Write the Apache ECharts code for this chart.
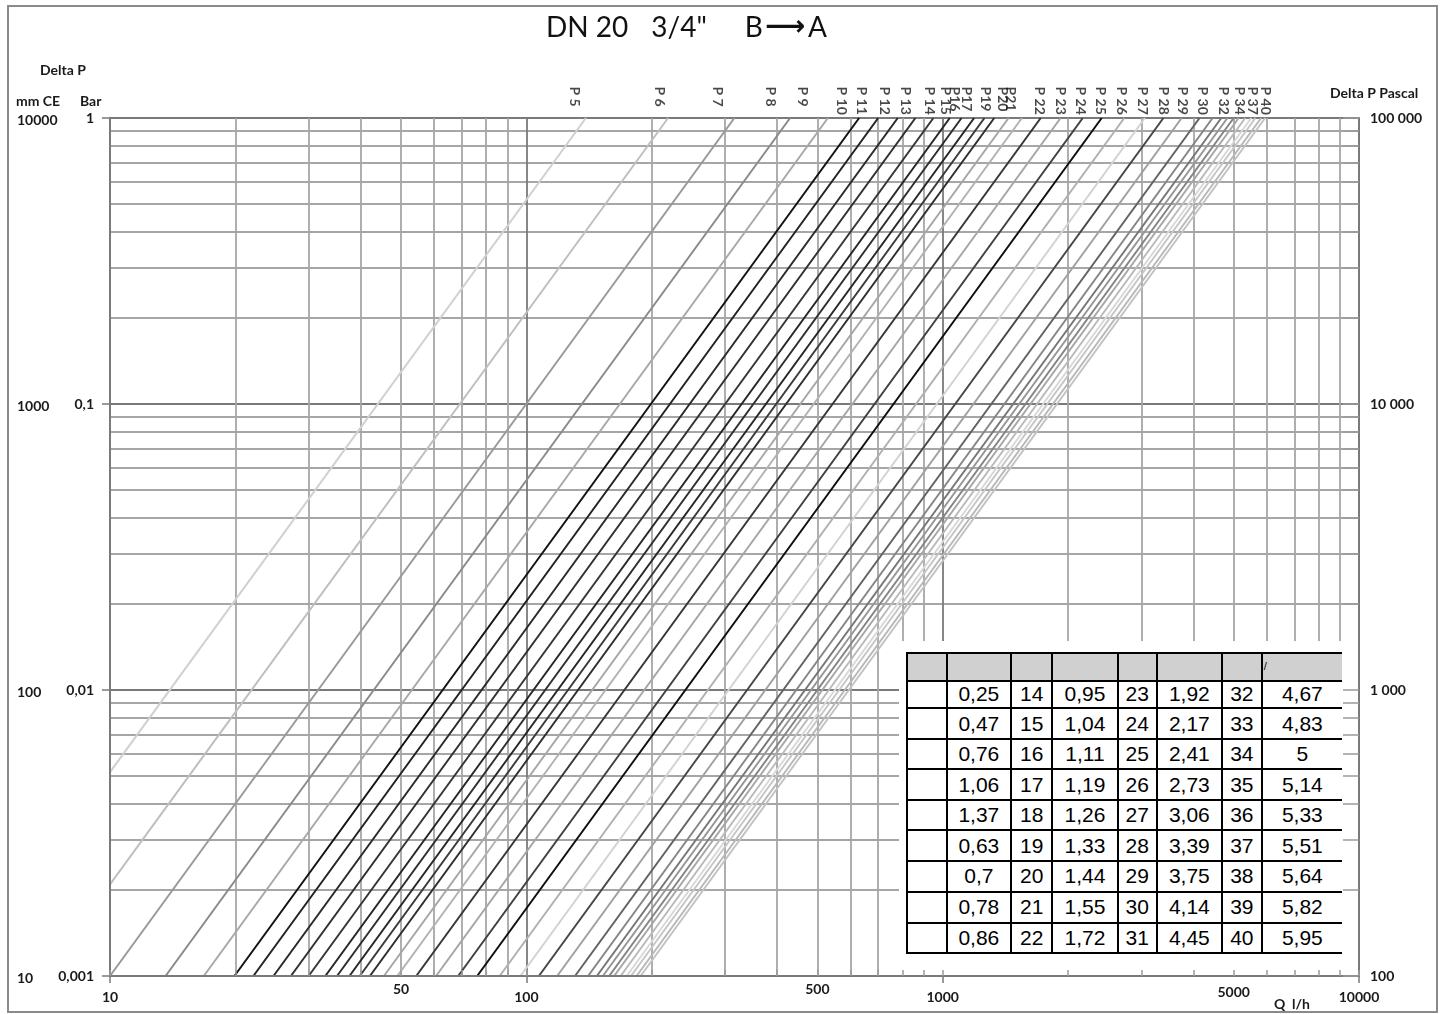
<!DOCTYPE html>
<html>
<head>
<meta charset="utf-8">
<script src="https://cdn.jsdelivr.net/npm/echarts@6/dist/echarts.min.js"></script>
<style>
html,body{margin:0;padding:0;background:#fff;}
#wrap{position:relative;width:1442px;height:1014px;overflow:hidden;background:#fff;}
#chart{position:absolute;left:0;top:0;width:1442px;height:1014px;}
#frame{position:absolute;left:7px;top:5px;width:1431px;height:1008px;border:2px solid #8a8a8a;box-sizing:border-box;pointer-events:none;}
#table{position:absolute;left:0;top:0;}
.cell{position:absolute;box-sizing:border-box;border-left:2px solid #000;border-top:2px solid #000;font-family:"Liberation Sans",Arial,sans-serif;font-size:21px;color:#000;display:flex;align-items:center;justify-content:center;background:#fff;}
.hdr{background:#d0d0d0;}
</style>
</head>
<body>
<div id="wrap"><div id="chart"></div><div id="frame"></div><div id="table"></div></div>
<script>
// ---------- data ----------
const lineNames = ['P5','P6','P7','P8','P9','P10','P11','P12','P13','P14','P15','P16','P17','P18','P19','P20','P21','P22','P23','P24','P25','P26','P27','P28','P29','P30','P31','P32','P33','P34','P35','P36','P37','P38','P39','P40'];
// Q (l/h) where each line reaches Delta P = 1 bar (top edge)
const qTop = [139, 219, 316, 430, 530, 630, 700, 780, 860, 950, 1040, 1110, 1190, 1260, 1330, 1440, 1550, 1720, 1920, 2170, 2410, 2730, 3060, 3390, 3750, 4140, 4450, 4670, 4830, 5000, 5140, 5330, 5510, 5640, 5820, 5950];
const pTop = [1,1,1,1,1,1,1,1,1,1,1,1,1,1,1,1,1,1,1,1,1,1,1,1,1,1,1,1,1,1,1,1,1,1,1,1];
// start point of each line (left edge or bottom edge)
const qStart = [10, 10, 10.0, 13.6, 16.8, 19.9, 22.1, 24.7, 27.2, 30.0, 32.9, 35.1, 37.6, 39.8, 42.1, 45.5, 49.0, 54.4, 60.7, 68.6, 76.2, 86.3, 96.8, 107.2, 118.6, 130.9, 140.7, 147.7, 152.7, 158.1, 162.5, 168.5, 174.2, 178.4, 184.0, 188.2];
const pStart = [0.00516, 0.00209, 0.001, 0.001, 0.001, 0.001, 0.001, 0.001, 0.001, 0.001, 0.001, 0.001, 0.001, 0.001, 0.001, 0.001, 0.001, 0.001, 0.001, 0.001, 0.001, 0.001, 0.001, 0.001, 0.001, 0.001, 0.001, 0.001, 0.001, 0.001, 0.001, 0.001, 0.001, 0.001, 0.001, 0.001];
const lineColors = ['#d0d0d0','#bfbfbf','#999999','#8a8a8a','#a8a8a8','#121212','#222222','#2a2a2a','#303030','#363636','#262626','#2e2e2e','#262626','#3a3a3a','#2e2e2e','#a6a6a6','#b2b2b2','#363636','#a5a5a5','#404040','#0e0e0e','#b0b0b0','#d2d2d2','#464646','#a0a0a0','#626262','#868686','#767676','#969696','#848484','#a6a6a6','#bababa','#d8d8d8','#c6c6c6','#b8b8b8','#c2c2c2'];

// rotated labels above the top edge
const labelNames = ['P 5','P 6','P 7','P 8','P 9','P 10','P 11','P 12','P 13','P 14','P 15','P16','P17','P19','P20','P21','P 22','P 23','P 24','P 25','P 26','P 27','P 28','P 29','P 30','P 32','P 34','P 37','P 40'];
const labelQ = [130.7, 209.2, 288.3, 386.4, 461.2, 572.1, 639.2, 725.6, 815.1, 930.5, 1016.7, 1068.6, 1141.6, 1268.7, 1393.5, 1456.5, 1710, 1920.5, 2144.6, 2395.8, 2690.6, 3021, 3393, 3769, 4209, 4727, 5166, 5580, 5964];

// axis ticks and labels
const xGridValues = [10,20,30,40,50,60,70,80,90,100,200,300,400,500,600,700,800,900,1000,2000,3000,4000,5000,6000,7000,8000,9000,10000];
const xMajorTicks = [10,100,1000,10000];
const xLabelValues = [10,50,100,500,1000,5000,10000];
const xLabelTexts = ['10','50','100','500','1000','5000','10000'];
const yGridValues = [0.001,0.002,0.003,0.004,0.005,0.006,0.007,0.008,0.009,0.01,0.02,0.03,0.04,0.05,0.06,0.07,0.08,0.09,0.1,0.2,0.3,0.4,0.5,0.6,0.7,0.8,0.9,1];
const barTicks = [0.001,0.01,0.1,1];
const barLabels = ['0,001','0,01','0,1','1'];
const mmTicks = [10,100,1000,10000];
const mmLabels = ['10','100','1000','10000'];
const paGridValues = [100,200,300,400,500,600,700,800,900,1000,2000,3000,4000,5000,6000,7000,8000,9000,10000,20000,30000,40000,50000,60000,70000,80000,90000,100000];
const paTicks = [100,1000,10000,100000];
const paLabels = ['100','1 000','10 000','100 000'];

// table
const tableCol0 = ['','','','','','','','',''];
const tableKvA = ['0,25','0,47','0,76','1,06','1,37','0,63','0,7','0,78','0,86'];
const tablePosB = ['14','15','16','17','18','19','20','21','22'];
const tableKvB = ['0,95','1,04','1,11','1,19','1,26','1,33','1,44','1,55','1,72'];
const tablePosC = ['23','24','25','26','27','28','29','30','31'];
const tableKvC = ['1,92','2,17','2,41','2,73','3,06','3,39','3,75','4,14','4,45'];
const tablePosD = ['32','33','34','35','36','37','38','39','40'];
const tableKvD = ['4,67','4,83','5','5,14','5,33','5,51','5,64','5,82','5,95'];

// ---------- helpers ----------
function pick(values, labels, v) {
  let best = 0, bd = Infinity;
  values.forEach((t, i) => { const d = Math.abs(Math.log10(t) - Math.log10(v)); if (d < bd) { bd = d; best = i; } });
  return labels[best];
}
const FONT = 'Lato';
const gridMinor = '#a6a6a6', gridMajor = '#7a7a7a';
const cycle = [gridMajor, gridMinor, gridMinor, gridMinor, gridMinor, gridMinor, gridMinor, gridMinor, gridMinor];
const lblStyle = {fontFamily: FONT, fontWeight: 'bold', fontSize: 14, color: '#1a1a1a'};

const series = lineNames.map((n, i) => ({
  type: 'line', name: n, xAxisIndex: 0, yAxisIndex: 0,
  data: [[qStart[i], pStart[i]], [qTop[i], pTop[i]]],
  showSymbol: false, symbol: 'none', silent: true, animation: false, z: 2,
  lineStyle: {color: lineColors[i], width: 2}
}));
series.push({
  type: 'scatter', xAxisIndex: 0, yAxisIndex: 0, silent: true, animation: false, clip: false, z: 4,
  symbolSize: 1, itemStyle: {color: 'rgba(0,0,0,0)'},
  data: labelQ.map((q, i) => ({value: [q, 1], name: labelNames[i]})),
  label: {show: true, formatter: '{b}', position: [0, -31], rotate: -90, align: 'left', verticalAlign: 'middle',
          fontFamily: FONT, fontSize: 14, fontWeight: 'bold', color: '#1a1a1a'}
});

const titleTok = {fontFamily: FONT, fontSize: 28, fontWeight: 'normal', color: '#111'};
const chart = echarts.init(document.getElementById('chart'), null, {renderer: 'canvas'});
chart.setOption({
  animation: false,
  backgroundColor: '#fff',
  title: {
    text: '{a|DN 20}{b|3/4"}{c|B}{r|⟶}{d|A}',
    left: 546, top: 14, padding: 0,
    textStyle: {fontWeight: 'normal', rich: {
      a: Object.assign({}, titleTok),
      b: Object.assign({padding: [0, 0, 0, 23]}, titleTok),
      c: Object.assign({padding: [0, 0, 0, 38]}, titleTok),
      r: {fontFamily: 'DejaVu Sans', fontSize: 28, fontWeight: 'bold', color: '#111', padding: [0, 3, 0, 2]},
      d: Object.assign({}, titleTok)
    }}
  },
  grid: {left: 110, right: 83, top: 118, bottom: 38, containLabel: false, outerBoundsMode: 'none'},
  xAxis: [
    {type: 'log', logBase: 10, min: 10, max: 10000, position: 'bottom', z: 3,
     axisLine: {show: true, onZero: false, lineStyle: {color: gridMajor, width: 2}},
     axisTick: {show: true, customValues: xMajorTicks, length: 7, lineStyle: {color: gridMajor, width: 1.5}},
     axisLabel: {show: true, customValues: xLabelValues, margin: 5,
       formatter: v => { const t = pick(xLabelValues, xLabelTexts, v); return (t === '50' || t === '500') ? '{h|' + t + '}' : (t === '5000' ? '{m|' + t + '}' : '{l|' + t + '}'); },
       rich: {h: Object.assign({lineHeight: 16}, lblStyle), m: Object.assign({lineHeight: 22}, lblStyle), l: Object.assign({lineHeight: 32}, lblStyle)}},
     splitLine: {show: false}, minorTick: {show: false}, minorSplitLine: {show: false}},
    {type: 'log', logBase: 10, min: 10, max: 10000, position: 'bottom', z: 3,
     axisLine: {show: false},
     axisTick: {show: true, customValues: xGridValues, inside: true, length: 6, lineStyle: {color: '#9a9a9a', width: 1.5}},
     axisLabel: {show: false}, splitLine: {show: false}},
    {type: 'log', logBase: 10, min: 10, max: 10000, position: 'bottom', z: 0,
     axisLine: {show: false},
     axisTick: {show: false, customValues: xGridValues},
     axisLabel: {show: false},
     splitLine: {show: true, showMinLine: true, showMaxLine: true, lineStyle: {color: cycle, width: 1.8}}}
  ],
  yAxis: [
    {type: 'log', logBase: 10, min: 0.001, max: 1, position: 'left', z: 3,
     axisLine: {show: true, onZero: false, lineStyle: {color: gridMajor, width: 2}},
     axisTick: {show: true, customValues: barTicks, length: 8, lineStyle: {color: gridMajor, width: 1.5}},
     axisLabel: Object.assign({show: true, customValues: barTicks, margin: 16, formatter: v => pick(barTicks, barLabels, v)}, lblStyle),
     splitLine: {show: false}},
    {type: 'log', logBase: 10, min: 10, max: 10000, position: 'left', z: 3,
     axisLine: {show: false}, axisTick: {show: false, customValues: mmTicks},
     axisLabel: Object.assign({show: true, customValues: mmTicks, margin: 93, align: 'left', verticalAlign: 'top', padding: [-5, 0, 0, 0], formatter: v => pick(mmTicks, mmLabels, v)}, lblStyle),
     splitLine: {show: false}},
    {type: 'log', logBase: 10, min: 100, max: 100000, position: 'right', z: 3,
     axisLine: {show: true, onZero: false, lineStyle: {color: gridMajor, width: 2}},
     axisTick: {show: true, customValues: paGridValues, inside: true, length: 16, lineStyle: {color: '#9a9a9a', width: 1.5}},
     axisLabel: Object.assign({show: true, customValues: paTicks, margin: 11, align: 'left', formatter: v => pick(paTicks, paLabels, v)}, lblStyle),
     splitLine: {show: false}},
    {type: 'log', logBase: 10, min: 0.001, max: 1, position: 'left', z: 0,
     axisLine: {show: false},
     axisTick: {show: false, customValues: yGridValues},
     axisLabel: {show: false},
     splitLine: {show: true, showMinLine: true, showMaxLine: true, lineStyle: {color: cycle, width: 1.8}}}
  ],
  graphic: [
    {type: 'rect', z: 1, silent: true, shape: {x: 899, y: 641, width: 459, height: 334}, style: {fill: '#ffffff'}},
    {type: 'text', z: 5, silent: true, x: 40, y: 70, style: {text: 'Delta P', verticalAlign: 'middle', fill: '#1a1a1a', font: 'bold 14px Lato'}},
    {type: 'text', z: 5, silent: true, x: 16, y: 101, style: {text: 'mm CE', verticalAlign: 'middle', fill: '#1a1a1a', font: 'bold 14px Lato'}},
    {type: 'text', z: 5, silent: true, x: 80, y: 101, style: {text: 'Bar', verticalAlign: 'middle', fill: '#1a1a1a', font: 'bold 14px Lato'}},
    {type: 'text', z: 5, silent: true, x: 1330, y: 93, style: {text: 'Delta P Pascal', verticalAlign: 'middle', fill: '#1a1a1a', font: 'bold 14px Lato'}},
    {type: 'text', z: 5, silent: true, x: 1274, y: 1004, style: {text: 'Q  l/h', verticalAlign: 'middle', fill: '#1a1a1a', font: 'bold 14px Lato'}}
  ],
  series: series
});

// ---------- table (HTML overlay) ----------
const colX = [907, 946.7, 1011, 1052.3, 1117.7, 1156.7, 1222, 1261.7, 1342];
const rowY = [653, 680.7, 708.3, 739, 769.3, 800, 830.3, 861, 891.7, 922.7, 953.3];
const cols = [tableCol0, tableKvA, tablePosB, tableKvB, tablePosC, tableKvC, tablePosD, tableKvD];
const tbl = document.getElementById('table');
for (let r = 0; r < rowY.length - 1; r++) {
  for (let c = 0; c < cols.length; c++) {
    const d = document.createElement('div');
    d.className = 'cell' + (r === 0 ? ' hdr' : '');
    d.style.left = (colX[c] - 1) + 'px';
    d.style.top = (rowY[r] - 1) + 'px';
    d.style.width = (colX[c + 1] - colX[c] + (c === cols.length - 1 ? 1 : 0)) + 'px';
    let h = rowY[r + 1] - rowY[r];
    if (r === rowY.length - 2) { h += 2; d.style.borderBottom = '2px solid #000'; }
    d.style.height = h + 'px';
    if (r > 0) d.textContent = cols[c][r - 1];
    if (r === 0 && c === cols.length - 1) {
      const s = document.createElement('span');
      s.textContent = '/';
      s.style.cssText = 'position:absolute;left:1px;top:7px;font-size:11px;line-height:11px;';
      d.style.display = 'block';
      d.appendChild(s);
    }
    tbl.appendChild(d);
  }
}
</script>
</body>
</html>
